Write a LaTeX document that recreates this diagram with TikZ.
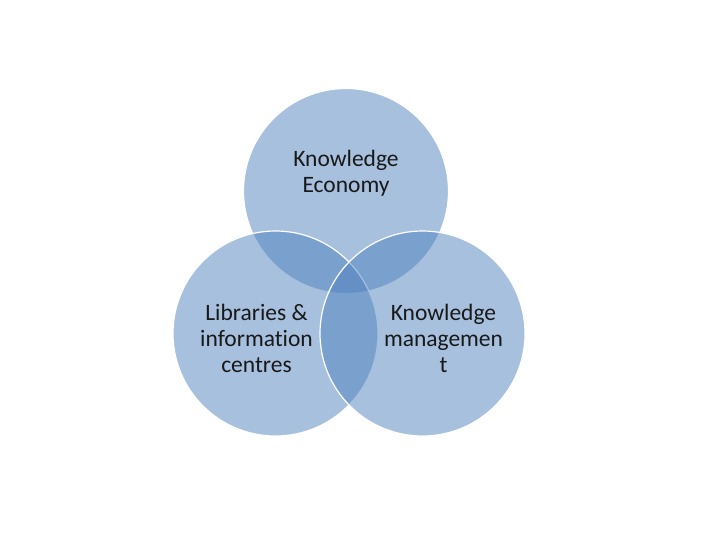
\documentclass[tikz,border=0pt]{standalone}
\usepackage{fontspec}
\setmainfont[Ligatures={NoCommon}]{Carlito}
\definecolor{vennblue}{HTML}{4F81BD}
\begin{document}
\begin{tikzpicture}[x=1pt,y=-1pt,
  venn/.style={circle, minimum size=205pt, inner sep=0pt, fill=vennblue, fill opacity=0.5, draw=white, line width=1.2pt},
  lbl/.style={align=center, font=\fontsize{23.5}{26}\selectfont, text=black!90, inner sep=0pt}]
\useasboundingbox (0,0) rectangle (720,540);
\node[venn] (top) at (346,191) {};
\node[venn] (left) at (275.5,333.5) {};
\node[venn] (right) at (422.5,333.5) {};
\node[lbl, anchor=base] (ttop) at (346,193) {Knowledge\\Economy};
\node[lbl, anchor=base] (tleft) at (256.5,372) {Libraries \&\\information\\centres};
\node[lbl, anchor=base] (tright) at (443.5,372) {Knowledge\\managemen\\t};
\end{tikzpicture}
\end{document}
